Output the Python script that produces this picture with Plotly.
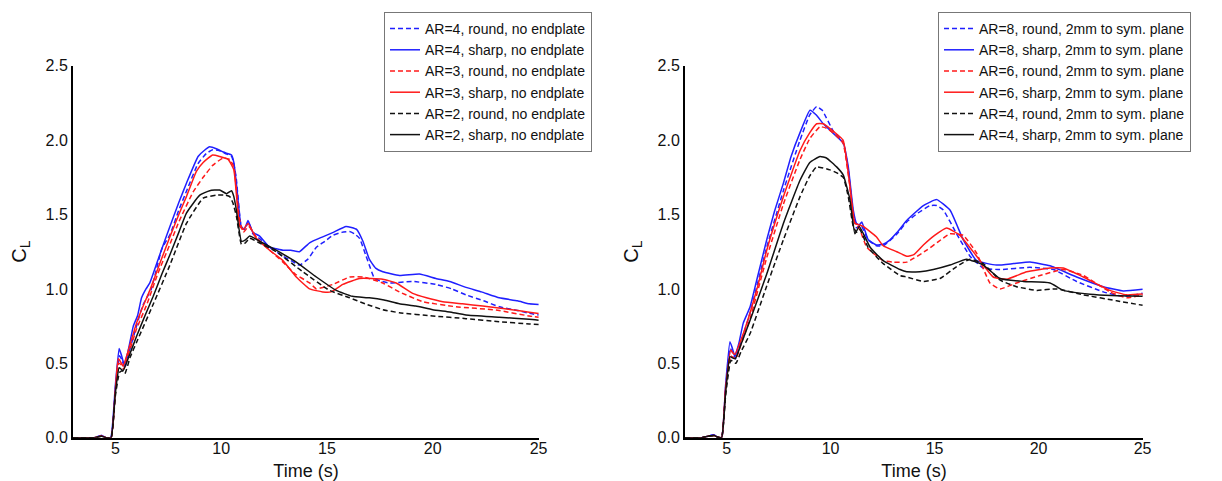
import plotly.graph_objects as go

# ---------------- data ----------------
# Left panel: no endplate
L_ar4_round_t = [3, 4.0, 4.35, 4.55, 4.8, 5.0, 5.2, 5.32, 5.45, 5.6, 5.9, 6.3, 6.7, 7.2, 7.6, 8.0, 8.4, 8.9, 9.3, 9.6, 9.9, 10.2, 10.5, 10.7, 10.95, 11.1, 11.3, 11.5, 11.8, 12.3, 12.92, 13.3, 13.7, 14.1, 14.5, 14.9, 15.28, 15.7, 16.07, 16.3, 16.54, 16.85, 17.05, 17.25, 17.6, 17.95, 19.05, 20.15, 20.9, 21.57, 22.4, 23.14, 24.0, 24.56, 25]
L_ar4_round_y = [0, 0, 0.015, 0, 0, 0.32, 0.55, 0.52, 0.47, 0.55, 0.70, 0.89, 1.0, 1.27, 1.37, 1.53, 1.67, 1.84, 1.91, 1.935, 1.93, 1.91, 1.89, 1.76, 1.42, 1.40, 1.45, 1.37, 1.34, 1.28, 1.22, 1.19, 1.16, 1.20, 1.28, 1.32, 1.36, 1.38, 1.385, 1.37, 1.34, 1.22, 1.14, 1.07, 1.05, 1.04, 1.05, 1.03, 1.0, 0.96, 0.92, 0.88, 0.855, 0.836, 0.825]

L_ar4_sharp_t = [3, 4.0, 4.35, 4.55, 4.78, 5.0, 5.18, 5.3, 5.42, 5.6, 5.85, 6.05, 6.24, 6.45, 6.63, 7.1, 7.58, 8.0, 8.36, 8.91, 9.2, 9.46, 9.8, 10.1, 10.3, 10.49, 10.6, 10.72, 10.96, 11.1, 11.27, 11.5, 11.82, 12.29, 12.6, 12.92, 13.3, 13.7, 14.18, 14.8, 15.3, 15.9, 16.4, 16.7, 17.0, 17.3, 17.64, 18.42, 19.37, 20.15, 20.8, 21.57, 22.3, 23.14, 24.0, 24.56, 25]
L_ar4_sharp_y = [0, 0, 0.015, 0, 0, 0.35, 0.60, 0.55, 0.49, 0.58, 0.75, 0.82, 0.94, 1.0, 1.04, 1.23, 1.42, 1.58, 1.71, 1.89, 1.93, 1.955, 1.94, 1.92, 1.91, 1.90, 1.85, 1.71, 1.41, 1.40, 1.46, 1.38, 1.355, 1.28, 1.27, 1.26, 1.26, 1.25, 1.31, 1.35, 1.38, 1.42, 1.40, 1.32, 1.20, 1.14, 1.115, 1.09, 1.10, 1.07, 1.05, 1.01, 0.98, 0.94, 0.92, 0.90, 0.895]

L_ar3_round_t = [3, 4.0, 4.35, 4.55, 4.8, 5.0, 5.16, 5.28, 5.4, 5.6, 6.0, 6.5, 7.0, 7.58, 8.0, 8.67, 9.15, 9.6, 10.09, 10.4, 10.6, 10.85, 11.05, 11.3, 11.7, 12.3, 12.92, 13.5, 14.18, 14.5, 14.8, 15.28, 16.07, 16.7, 17.64, 18.42, 19.53, 21.1, 22.99, 24.56, 25]
L_ar3_round_y = [0, 0, 0.012, 0, 0, 0.30, 0.50, 0.49, 0.46, 0.55, 0.73, 0.90, 1.10, 1.30, 1.45, 1.65, 1.75, 1.83, 1.88, 1.87, 1.82, 1.48, 1.38, 1.42, 1.34, 1.26, 1.18, 1.10, 1.04, 1.00, 1.01, 1.03, 1.08, 1.08, 1.04, 0.98, 0.914, 0.88, 0.858, 0.818, 0.81]

L_ar3_sharp_t = [3, 4.0, 4.35, 4.55, 4.8, 5.0, 5.14, 5.25, 5.37, 5.6, 6.0, 6.3, 6.63, 7.1, 7.58, 8.0, 8.36, 8.83, 9.15, 9.6, 9.93, 10.33, 10.6, 10.88, 11.05, 11.27, 11.66, 12.29, 12.92, 13.55, 14.18, 14.8, 15.2, 15.75, 16.54, 17.1, 17.64, 18.27, 19.05, 19.7, 20.47, 21.4, 22.36, 23.5, 24.56, 25]
L_ar3_sharp_y = [0, 0, 0.012, 0, 0, 0.32, 0.53, 0.51, 0.48, 0.58, 0.77, 0.88, 0.99, 1.17, 1.35, 1.50, 1.62, 1.79, 1.85, 1.90, 1.89, 1.87, 1.80, 1.42, 1.40, 1.44, 1.34, 1.26, 1.19, 1.08, 1.00, 0.98, 0.98, 1.03, 1.07, 1.07, 1.065, 1.04, 0.97, 0.94, 0.914, 0.90, 0.885, 0.865, 0.843, 0.835]

L_ar2_round_t = [3, 4.0, 4.35, 4.55, 4.8, 5.0, 5.2, 5.32, 5.45, 5.7, 6.0, 6.8, 7.58, 8.36, 9.15, 9.78, 10.2, 10.41, 10.55, 10.72, 10.96, 11.15, 11.35, 11.8, 12.6, 13.86, 15.12, 16.07, 16.8, 17.64, 18.42, 20.0, 21.57, 23.14, 24.56, 25]
L_ar2_round_y = [0, 0, 0.01, 0, 0, 0.28, 0.44, 0.45, 0.43, 0.54, 0.64, 0.90, 1.16, 1.44, 1.61, 1.63, 1.63, 1.62, 1.58, 1.49, 1.30, 1.31, 1.34, 1.31, 1.25, 1.115, 0.99, 0.94, 0.90, 0.86, 0.84, 0.818, 0.80, 0.78, 0.764, 0.76]

L_ar2_sharp_t = [3, 4.0, 4.35, 4.55, 4.8, 5.0, 5.18, 5.28, 5.37, 5.6, 6.0, 6.4, 6.79, 7.2, 7.58, 8.0, 8.36, 8.99, 9.46, 9.93, 10.25, 10.49, 10.6, 10.72, 10.96, 11.15, 11.35, 11.82, 12.6, 13.55, 14.5, 15.44, 16.2, 17.0, 17.7, 18.42, 19.2, 20.0, 20.8, 21.57, 23.14, 24.56, 25]
L_ar2_sharp_y = [0, 0, 0.01, 0, 0, 0.30, 0.47, 0.46, 0.45, 0.53, 0.68, 0.82, 0.95, 1.10, 1.23, 1.38, 1.51, 1.63, 1.66, 1.665, 1.64, 1.66, 1.62, 1.53, 1.32, 1.33, 1.355, 1.32, 1.26, 1.18, 1.08, 0.99, 0.95, 0.94, 0.925, 0.90, 0.885, 0.86, 0.845, 0.825, 0.81, 0.796, 0.79]

# Right panel: 2mm to symmetry plane
R_ar8_round_t = [3, 3.8, 4.1, 4.4, 4.55, 4.76, 4.95, 5.18, 5.3, 5.42, 5.6, 6.13, 6.93, 7.73, 8.53, 9.0, 9.33, 9.6, 10.13, 10.61, 10.85, 11.09, 11.25, 11.45, 11.81, 12.2, 12.53, 13.2, 13.66, 14.2, 14.78, 15.1, 15.42, 16.06, 16.7, 17.34, 18.14, 19.59, 20.71, 21.83, 23.11, 24.07, 25]
R_ar8_round_y = [0, 0, 0.01, 0.02, 0.005, 0, 0.33, 0.60, 0.57, 0.53, 0.60, 0.84, 1.28, 1.66, 2.00, 2.17, 2.225, 2.20, 2.06, 1.98, 1.80, 1.50, 1.41, 1.43, 1.33, 1.29, 1.29, 1.37, 1.45, 1.51, 1.56, 1.56, 1.53, 1.37, 1.22, 1.14, 1.13, 1.145, 1.13, 1.05, 0.98, 0.95, 0.97]

R_ar8_sharp_t = [3, 3.8, 4.1, 4.4, 4.55, 4.76, 4.95, 5.16, 5.28, 5.4, 5.6, 5.8, 6.13, 6.45, 6.93, 7.3, 7.73, 8.1, 8.53, 9.01, 9.3, 9.65, 10.13, 10.61, 10.85, 11.09, 11.25, 11.38, 11.5, 11.81, 12.2, 12.53, 12.86, 13.2, 13.66, 14.46, 15.1, 15.74, 16.38, 17.02, 17.98, 18.8, 19.59, 20.55, 21.83, 23.11, 24.07, 25]
R_ar8_sharp_y = [0, 0, 0.01, 0.02, 0.005, 0, 0.35, 0.645, 0.60, 0.545, 0.64, 0.77, 0.88, 1.06, 1.33, 1.52, 1.71, 1.89, 2.05, 2.20, 2.17, 2.11, 2.045, 1.98, 1.82, 1.53, 1.44, 1.43, 1.45, 1.33, 1.295, 1.30, 1.33, 1.38, 1.46, 1.56, 1.60, 1.53, 1.33, 1.19, 1.16, 1.17, 1.18, 1.155, 1.08, 1.015, 0.986, 0.997]

R_ar6_round_t = [3, 3.8, 4.1, 4.4, 4.55, 4.76, 4.95, 5.2, 5.32, 5.45, 5.7, 6.13, 6.93, 7.73, 8.53, 9.0, 9.49, 9.8, 10.2, 10.6, 10.9, 11.15, 11.4, 11.74, 12.53, 13.0, 13.66, 14.62, 15.2, 15.74, 16.38, 17.02, 17.66, 18.14, 18.94, 20.07, 21.19, 22.15, 23.43, 24.23, 25]
R_ar6_round_y = [0, 0, 0.01, 0.015, 0.005, 0, 0.31, 0.55, 0.54, 0.53, 0.63, 0.80, 1.21, 1.57, 1.87, 2.01, 2.09, 2.08, 2.04, 1.98, 1.72, 1.45, 1.40, 1.28, 1.19, 1.18, 1.18, 1.26, 1.32, 1.37, 1.36, 1.24, 1.04, 1.00, 1.04, 1.09, 1.13, 1.09, 0.98, 0.94, 0.96]

R_ar6_sharp_t = [3, 3.8, 4.1, 4.4, 4.55, 4.76, 4.95, 5.2, 5.3, 5.4, 5.7, 6.13, 6.5, 6.93, 7.73, 8.53, 9.0, 9.33, 9.65, 10.13, 10.6, 10.93, 11.17, 11.4, 11.57, 12.2, 12.53, 13.18, 13.66, 14.0, 14.46, 15.0, 15.58, 16.22, 17.02, 17.82, 18.46, 19.43, 20.55, 21.19, 22.15, 23.43, 24.23, 25]
R_ar6_sharp_y = [0, 0, 0.01, 0.015, 0.005, 0, 0.33, 0.59, 0.57, 0.56, 0.66, 0.84, 1.02, 1.26, 1.62, 1.93, 2.05, 2.11, 2.11, 2.06, 2.0, 1.69, 1.44, 1.43, 1.42, 1.35, 1.29, 1.25, 1.22, 1.23, 1.295, 1.36, 1.41, 1.36, 1.22, 1.08, 1.065, 1.115, 1.14, 1.14, 1.08, 0.99, 0.96, 0.965]

R_ar4_round_t = [3, 3.8, 4.1, 4.4, 4.55, 4.76, 4.95, 5.2, 5.32, 5.45, 5.7, 6.13, 6.93, 7.73, 8.53, 9.0, 9.33, 9.97, 10.3, 10.61, 10.85, 11.09, 11.25, 11.4, 11.8, 12.53, 13.34, 13.66, 14.46, 15.26, 16.06, 16.7, 17.34, 18.14, 18.94, 19.91, 20.87, 22.15, 23.75, 25]
R_ar4_round_y = [0, 0, 0.01, 0.015, 0.005, 0, 0.28, 0.52, 0.51, 0.50, 0.58, 0.70, 1.02, 1.33, 1.62, 1.76, 1.82, 1.80, 1.78, 1.75, 1.62, 1.42, 1.38, 1.40, 1.28, 1.17, 1.09, 1.08, 1.05, 1.07, 1.15, 1.20, 1.17, 1.06, 1.015, 0.99, 1.0, 0.96, 0.92, 0.89]

R_ar4_sharp_t = [3, 3.8, 4.1, 4.4, 4.55, 4.76, 4.95, 5.16, 5.3, 5.42, 5.7, 6.13, 6.93, 7.73, 8.53, 9.0, 9.49, 9.8, 10.29, 10.61, 10.93, 11.17, 11.38, 11.9, 12.53, 13.34, 13.66, 14.3, 14.94, 15.74, 16.54, 17.34, 18.14, 19.27, 20.55, 21.19, 22.47, 23.5, 25]
R_ar4_sharp_y = [0, 0, 0.01, 0.015, 0.005, 0, 0.30, 0.545, 0.535, 0.53, 0.63, 0.79, 1.10, 1.44, 1.73, 1.85, 1.89, 1.88, 1.82, 1.765, 1.60, 1.37, 1.42, 1.28, 1.19, 1.13, 1.115, 1.115, 1.13, 1.16, 1.20, 1.16, 1.07, 1.05, 1.04, 0.99, 0.964, 0.955, 0.95]

left_names = ["AR=4, round, no endplate", "AR=4, sharp, no endplate",
              "AR=3, round, no endplate", "AR=3, sharp, no endplate",
              "AR=2, round, no endplate", "AR=2, sharp, no endplate"]
right_names = ["AR=8, round, 2mm to sym. plane", "AR=8, sharp, 2mm to sym. plane",
               "AR=6, round, 2mm to sym. plane", "AR=6, sharp, 2mm to sym. plane",
               "AR=4, round, 2mm to sym. plane", "AR=4, sharp, 2mm to sym. plane"]
x_ticks = [5, 10, 15, 20, 25]
y_ticks = [0.0, 0.5, 1.0, 1.5, 2.0, 2.5]
x_title = "Time (s)"
y_title = "C<sub>L</sub>"

# ---------------- styling ----------------
colors = ["#1f1fff", "#1f1fff", "#ff1a1a", "#ff1a1a", "#111111", "#111111"]
dashes = ["5px,3px", "solid"] * 3
FONT = "Arial, Liberation Sans, sans-serif"

left_series = [(L_ar4_round_t, L_ar4_round_y), (L_ar4_sharp_t, L_ar4_sharp_y),
               (L_ar3_round_t, L_ar3_round_y), (L_ar3_sharp_t, L_ar3_sharp_y),
               (L_ar2_round_t, L_ar2_round_y), (L_ar2_sharp_t, L_ar2_sharp_y)]
right_series = [(R_ar8_round_t, R_ar8_round_y), (R_ar8_sharp_t, R_ar8_sharp_y),
                (R_ar6_round_t, R_ar6_round_y), (R_ar6_sharp_t, R_ar6_sharp_y),
                (R_ar4_round_t, R_ar4_round_y), (R_ar4_sharp_t, R_ar4_sharp_y)]

fig = go.Figure()
for i, ((t, y), name) in enumerate(zip(left_series, left_names)):
    fig.add_trace(go.Scatter(x=t, y=y, name=name, mode="lines", xaxis="x", yaxis="y",
                             legend="legend",
                             line=dict(color=colors[i], width=1.5, dash=dashes[i], shape="spline", smoothing=0.4)))
for i, ((t, y), name) in enumerate(zip(right_series, right_names)):
    fig.add_trace(go.Scatter(x=t, y=y, name=name, mode="lines", xaxis="x2", yaxis="y2",
                             legend="legend2",
                             line=dict(color=colors[i], width=1.5, dash=dashes[i], shape="spline", smoothing=0.4)))

W, H = 1222, 481
def px_x(p):
    return p / W
def px_y(p):
    return 1 - p / H

axis_common = dict(showline=True, linecolor="black", linewidth=2, showgrid=False,
                   zeroline=False, ticks="", layer="below traces", automargin=False,
                   tickfont=dict(family=FONT, size=16, color="#111"))

legend_common = dict(xanchor="left", yanchor="top", bgcolor="white", bordercolor="#777",
                     borderwidth=1, itemwidth=30, tracegroupgap=0,
                     font=dict(family=FONT, size=14, color="#111"))

xaxis_extra = dict(ticklabelstandoff=-5)

fig.update_layout(
    width=W, height=H, autosize=False,
    margin=dict(l=0, r=0, t=0, b=0, pad=0, autoexpand=False),
    paper_bgcolor="white", plot_bgcolor="white",
    font=dict(family=FONT, color="#111"),
    xaxis=dict(domain=[px_x(73), px_x(539)], range=[3, 25.02], tickvals=x_ticks,
               anchor="y", title=dict(text=x_title, font=dict(size=18), standoff=8),
               **xaxis_extra, **axis_common),
    yaxis=dict(domain=[px_y(437.7), px_y(65.7)], range=[0, 2.5], tickvals=y_ticks, tickformat=".1f",
               anchor="x", title=dict(text=y_title, font=dict(size=20), standoff=14), **axis_common),
    xaxis2=dict(domain=[px_x(685), px_x(1143)], range=[3, 25.02], tickvals=x_ticks,
                anchor="y2", title=dict(text=x_title, font=dict(size=18), standoff=8),
                **xaxis_extra, **axis_common),
    yaxis2=dict(domain=[px_y(437.7), px_y(65.7)], range=[0, 2.5], tickvals=y_ticks, tickformat=".1f",
                anchor="x2", title=dict(text=y_title, font=dict(size=20), standoff=14), **axis_common),
    legend=dict(x=px_x(384), y=px_y(12), **legend_common),
    legend2=dict(x=px_x(938), y=px_y(12), **legend_common),
    showlegend=True,
)

fig.write_html("out.html")
